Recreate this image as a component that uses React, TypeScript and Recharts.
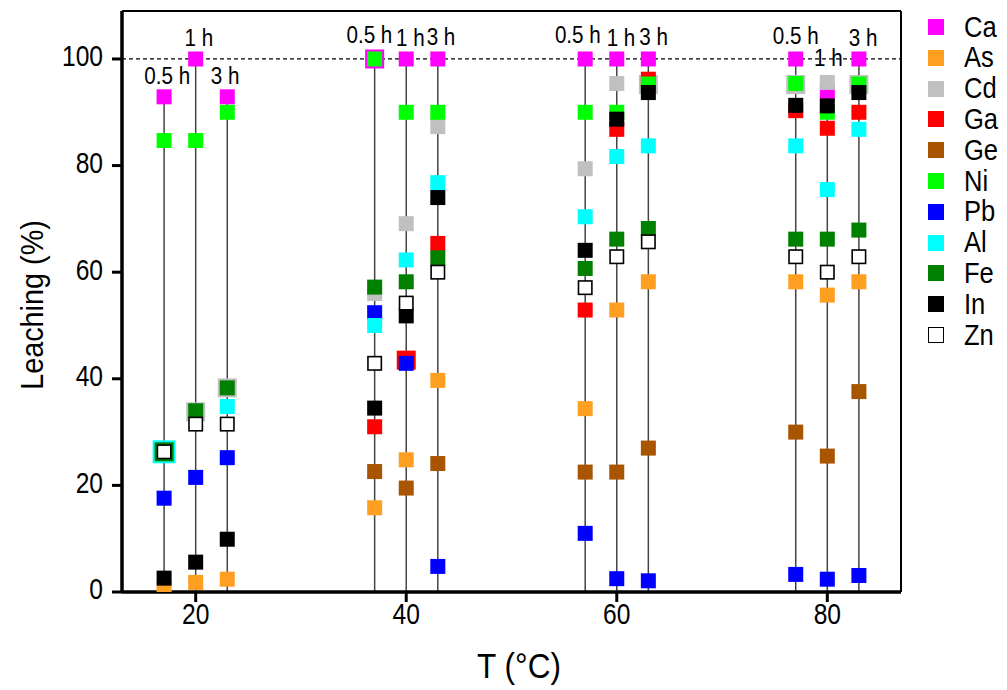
import React from "react";
import { ScatterChart, Scatter, XAxis, YAxis, ReferenceLine } from "recharts";

// leaching temperature for each stem (the three per group are 0.5 h, 1 h, 3 h)
const temps = [17, 20, 23, 37, 40, 43, 57, 60, 63, 77, 80, 83];

// leaching (%), one value per temperature
const ca = [92.9, 100, 92.9, 100, 100, 100, 100, 100, 100, 100, 93.5, 100];
const as = [0.5, 1.8, 2.4, 15.8, 24.8, 39.7, 34.4, 52.9, 58.2, 58.2, 55.7, 58.2];
const cd = [null, 33.8, 38.3, 56, 69.1, 87.3, 79.4, 95.4, 95.2, 95.2, 95.6, 95.2];
const ga = [null, null, null, 31, 43.5, 65.4, 52.9, 86.8, 96.2, 90.3, 87, 90];
const ge = [null, null, null, 22.6, 19.5, 24.1, 22.5, 22.5, 27, 30, 25.5, 37.6];
const ni = [84.7, 84.7, 90, 100, 90, 90, 90, 90, 95.3, 95.4, 90, 95.3];
const pb = [17.6, 21.5, 25.2, 52.4, 42.9, 4.8, 11, 2.5, 2.1, 3.3, 2.4, 3.1];
const al = [26.3, null, 34.8, 50, 62.3, 76.8, 70.4, 81.7, 83.7, 83.7, 75.5, 86.8];
const fe = [26.3, 34, 38.3, 57.2, 58.2, 62.7, 60.7, 66.2, 68.2, 66.2, 66.2, 67.9];
const inn = [2.6, 5.6, 9.9, 34.5, 51.8, 74, 64.1, 88.7, 93.7, 91.3, 91.2, 93.7];
const zn = [26.3, 31.5, 31.5, 42.9, 54.2, 60, 57.1, 62.9, 65.7, 62.9, 60, 62.9];

// time labels above the stems
const timeText = ["0.5 h", "1 h", "3 h", "0.5 h", "1 h", "3 h", "0.5 h", "1 h", "3 h", "0.5 h", "1 h", "3 h"];
const timeT = [17.3, 20.3, 22.8, 36.5, 40.4, 43.3, 56.3, 60.4, 63.5, 77, 80.1, 83.4];
const timeY = [96.9, 104, 96.9, 104.5, 104, 104.2, 104.5, 104, 104.2, 104.3, 100.2, 104];

const yTicks = [0, 20, 40, 60, 80, 100];
const xTicks = [20, 40, 60, 80];

const series = [
  { name: "Ca", values: ca, color: "#ff00ff" },
  { name: "As", values: as, color: "#ff9f22" },
  { name: "Cd", values: cd, color: "#c0c0c0" },
  { name: "Ga", values: ga, color: "#ff0000" },
  { name: "Ge", values: ge, color: "#a95500" },
  { name: "Ni", values: ni, color: "#00ff00" },
  { name: "Pb", values: pb, color: "#0000ff" },
  { name: "Al", values: al, color: "#00ffff" },
  { name: "Fe", values: fe, color: "#008000" },
  { name: "In", values: inn, color: "#000000" },
  { name: "Zn", values: zn, color: "#ffffff", stroke: "#000000" },
];

const FONT = "'Liberation Sans', Arial, sans-serif";
const BASE = 15;

// overlapping symbols drawn earlier are shown a bit larger, as in the original
function symbolSize(si: number, i: number, v: number) {
  let n = 0;
  for (let k = si + 1; k < series.length; k++) {
    const o = series[k].values[i];
    if (o != null && Math.abs(o - v) <= 0.7) n++;
  }
  return BASE + 4 * n;
}

const stemTop = temps.map((_, i) =>
  Math.max(...series.map((s) => (s.values[i] == null ? 0 : (s.values[i] as number))))
);

const labelRows = timeText.map((text, i) => ({ t: timeT[i], v: timeY[i], text }));

function YTick({ x, y, payload }: any) {
  return (
    <text transform={`translate(${x},${y - 3}) scale(0.82,1)`} textAnchor="end" dominantBaseline="central" fontSize={30} fontFamily={FONT} fill="#000">
      {payload.value}
    </text>
  );
}

function XTick({ x, y, payload }: any) {
  return (
    <text transform={`translate(${x},${y + 4}) scale(0.82,1)`} textAnchor="middle" dominantBaseline="central" fontSize={30} fontFamily={FONT} fill="#000">
      {payload.value}
    </text>
  );
}

export default function App() {
  return (
    <div style={{ position: "absolute", left: 0, top: 0, width: 1007, height: 690, background: "#fff", fontFamily: FONT }}>
      <ScatterChart width={1007} height={690} margin={{ top: 11, right: 106, bottom: 28, left: 62 }}>
        <XAxis
          type="number"
          dataKey="t"
          domain={[13, 87]}
          ticks={xTicks}
          allowDataOverflow
          height={70}
          tickSize={10}
          tickMargin={8}
          axisLine={{ stroke: "#000", strokeWidth: 3.5 }}
          tickLine={{ stroke: "#000", strokeWidth: 3 }}
          tick={<XTick />}
        />
        <YAxis
          type="number"
          dataKey="v"
          domain={[0, 109]}
          ticks={yTicks}
          allowDataOverflow
          width={60}
          tickSize={10}
          tickMargin={9}
          axisLine={{ stroke: "#000", strokeWidth: 3.5 }}
          tickLine={{ stroke: "#000", strokeWidth: 3 }}
          tick={<YTick />}
        />
        <ReferenceLine y={109} stroke="#000" strokeWidth={2} />
        <ReferenceLine x={87} stroke="#000" strokeWidth={2} />
        <ReferenceLine y={100} stroke="#000" strokeWidth={1.3} strokeDasharray="4 3" />
        {temps.map((t, i) => (
          <ReferenceLine
            key={"stem" + i}
            segment={[
              { x: t, y: 0 },
              { x: t, y: stemTop[i] },
            ]}
            stroke="#444"
            strokeWidth={1.5}
          />
        ))}
        {series.map((s, si) => (
          <Scatter
            key={s.name}
            name={s.name}
            isAnimationActive={false}
            data={temps
              .map((t, i) => ({ t, v: s.values[i], i }))
              .filter((d) => d.v != null)}
            shape={(p: any) => {
              const size = symbolSize(si, p.payload.i, p.payload.v);
              const sw = s.stroke ? 1.6 : 0;
              return (
                <rect
                  x={p.cx - size / 2 + sw / 2}
                  y={p.cy - size / 2 + sw / 2}
                  width={size - sw}
                  height={size - sw}
                  fill={s.color}
                  stroke={s.stroke || "none"}
                  strokeWidth={sw}
                />
              );
            }}
          />
        ))}
        <Scatter
          name="time"
          isAnimationActive={false}
          data={labelRows}
          shape={(p: any) => (
            <text
              transform={`translate(${p.cx},${p.cy}) scale(0.86,1)`}
              textAnchor="middle"
              dominantBaseline="central"
              fontSize={24}
              fontFamily={FONT}
              fill="#000"
            >
              {p.payload.text}
            </text>
          )}
        />
      </ScatterChart>

      <div
        style={{
          position: "absolute",
          left: 32,
          top: 305,
          transform: "translate(-50%, -50%) rotate(-90deg) scaleX(0.9)",
          fontSize: 32,
          whiteSpace: "nowrap",
          color: "#000",
        }}
      >
        Leaching (%)
      </div>
      <div
        style={{
          position: "absolute",
          left: 519,
          top: 666,
          transform: "translate(-50%, -50%) scaleX(0.9)",
          fontSize: 35,
          whiteSpace: "nowrap",
          color: "#000",
        }}
      >
        T (°C)
      </div>

      {series.map((s, k) => (
        <div key={s.name} style={{ position: "absolute", left: 928, top: 27 + k * 30.8 - 15, height: 30, display: "flex", alignItems: "center" }}>
          <div
            style={{
              width: 16,
              height: 16,
              boxSizing: "border-box",
              background: s.color,
              border: s.stroke ? `1.6px solid ${s.stroke}` : "none",
            }}
          />
          <span style={{ marginLeft: 20, fontSize: 29, display: "inline-block", transform: "scaleX(0.88)", transformOrigin: "left center" }}>
            {s.name}
          </span>
        </div>
      ))}
    </div>
  );
}
